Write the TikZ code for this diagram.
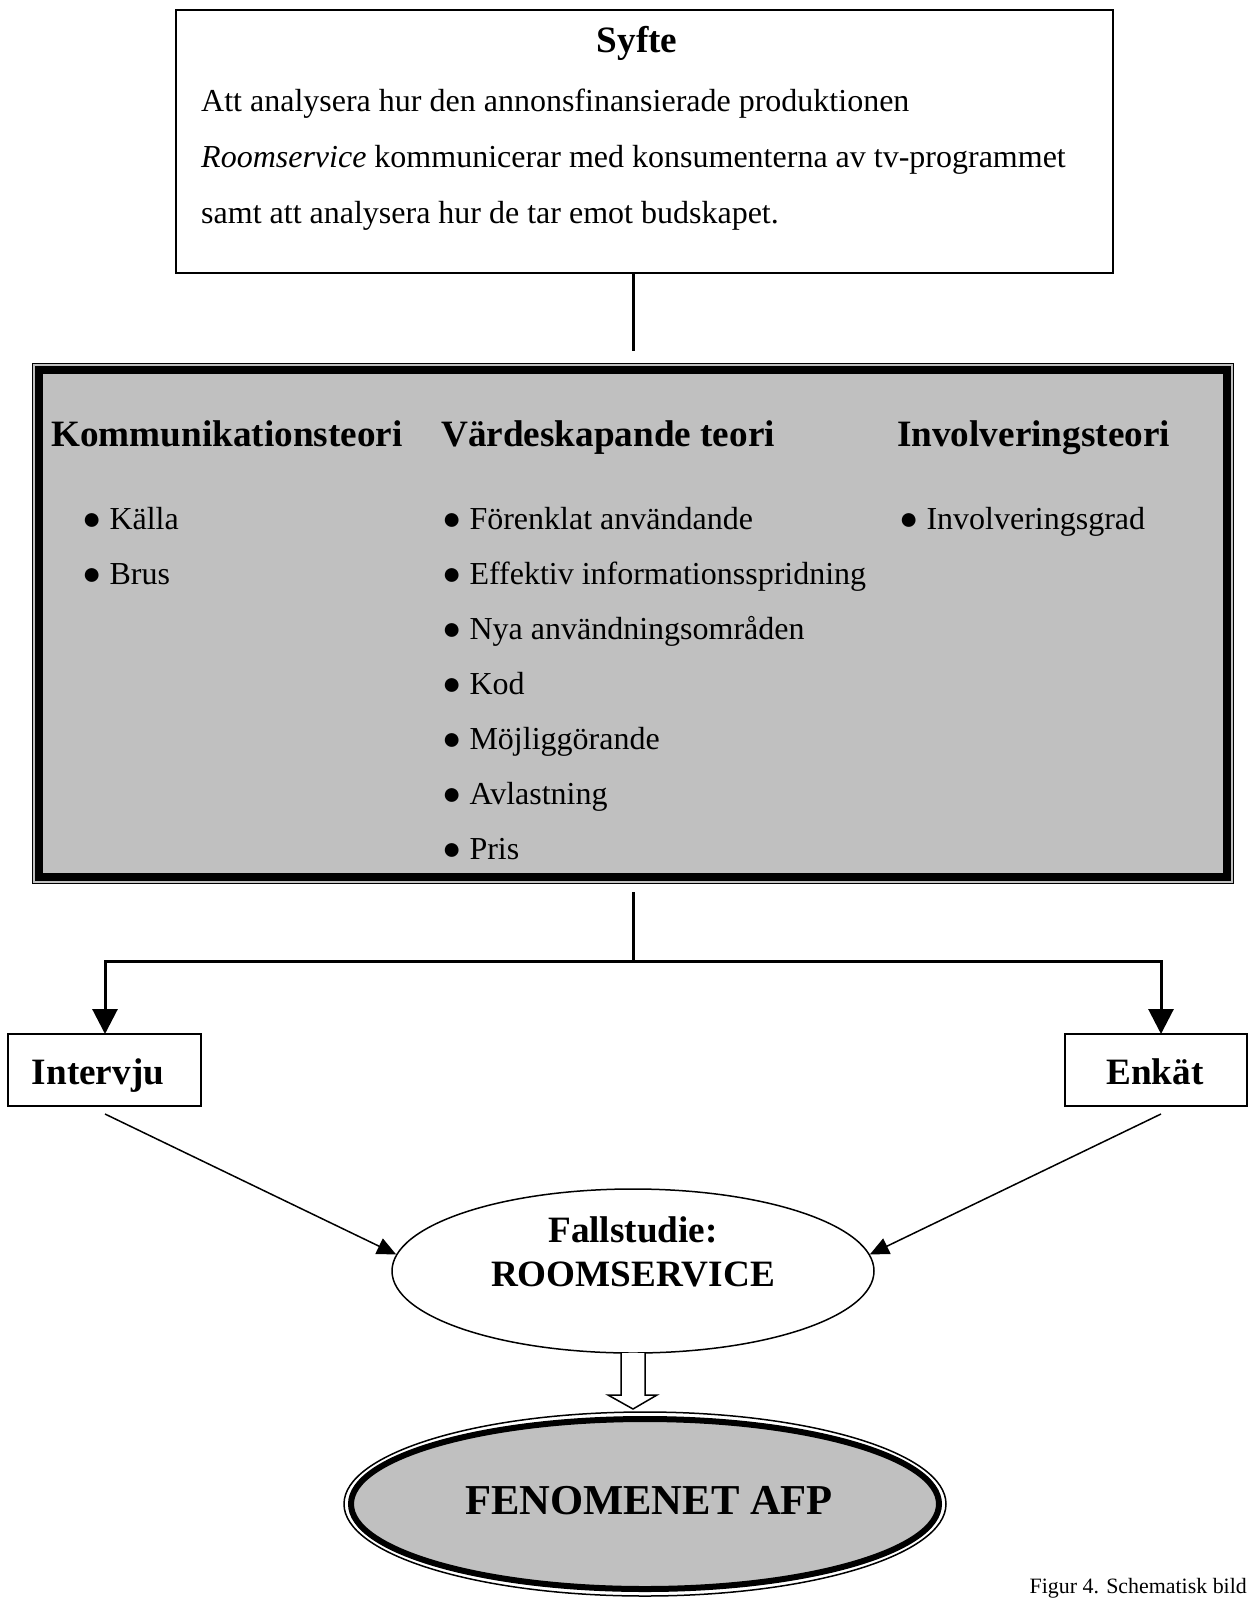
\documentclass[tikz,border=0pt]{standalone}
\usepackage{fontspec}
\setmainfont{Liberation Serif}
\usetikzlibrary{arrows.meta,shapes.geometric}
\definecolor{boxgray}{HTML}{C0C0C0}
\begin{document}
\begin{tikzpicture}[x=1pt,y=-1pt,
  bodytext/.style={font=\fontsize{32}{39}\selectfont, anchor=base west, inner sep=0pt},
  headtext/.style={font=\fontsize{37.2}{44}\bfseries\selectfont, inner sep=0pt},
  plainbox/.style={draw, line width=2pt, inner sep=0pt},
  conn/.style={line width=3pt},
  bigarrow/.style={line width=3pt, -{Triangle[width=25pt 0, length=25pt 0]}},
  thinarrow/.style={line width=1.5pt, -{Triangle[width=17pt 0, length=19pt 0]}}]
\useasboundingbox (0,0) rectangle (1248,1598);

% Syfte box
\node[plainbox, minimum width=937pt, minimum height=263pt] (syftebox) at (644.5,141.5) {};
\node[headtext, anchor=base] (syfte) at (637,52) {Syfte};
\node[bodytext] (l1) at (201,111) {Att analysera hur den annonsfinansierade produktionen};
\node[bodytext] (l2) at (201,167) {\textit{Roomservice} kommunicerar med konsumenterna av tv-programmet};
\node[bodytext] (l3) at (201,223) {samt att analysera hur de tar emot budskapet.};

\coordinate (s1) at (633,273);
\coordinate (s2) at (633,351);
\draw[conn] (s1) -- (s2);

% Theory box
\node[draw, fill=boxgray, line width=1.5pt, minimum width=1201pt, minimum height=520pt, inner sep=0pt] (theory) at (633,623.5) {};
\draw[line width=8pt] ([shift={(7,7)}]theory.north west) rectangle ([shift={(-7,-7)}]theory.south east);

\node[headtext, anchor=base west] (h1) at (51,446) {Kommunikationsteori};
\node[headtext, anchor=base west] (h2) at (441,446) {Värdeskapande teori};
\node[headtext, anchor=base west] (h3) at (897,446) {Involveringsteori};

\node[bodytext] (a1) at (82,529) {● Källa};
\node[bodytext] (a2) at (82,584) {● Brus};

\node[bodytext] (b1) at (442,529) {● Förenklat användande};
\node[bodytext] (b2) at (442,584) {● Effektiv informationsspridning};
\node[bodytext] (b3) at (442,639) {● Nya användningsområden};
\node[bodytext] (b4) at (442,694) {● Kod};
\node[bodytext] (b5) at (442,749) {● Möjliggörande};
\node[bodytext] (b6) at (442,804) {● Avlastning};
\node[bodytext] (b7) at (442,859) {● Pris};

\node[bodytext] (c1) at (899,529) {● Involveringsgrad};

% connectors down to methods
\coordinate (t1) at (633,892);
\coordinate (jn) at (633,961);
\draw[conn] (t1) -- (jn);

\node[plainbox, minimum width=193pt, minimum height=72pt] (intervju) at (104.5,1070) {};
\node[plainbox, minimum width=182pt, minimum height=72pt] (enkat) at (1156,1070) {};
\node[headtext, anchor=base] (intervjutext) at (98,1084) {Intervju};
\node[headtext, anchor=base] (enkattext) at (1155,1084) {Enkät};

\coordinate (aL) at (105,1034);
\coordinate (aR) at (1161,1034);
\draw[bigarrow] (jn) -| (aL);
\draw[bigarrow] (jn) -| (aR);

% Fallstudie ellipse
\node[draw, ellipse, line width=1.5pt, minimum width=482pt, minimum height=164pt, inner sep=0pt] (fall) at (633,1271) {};
\node[headtext, align=center] (falltext) at (633,1252) {Fallstudie:\\ROOMSERVICE};

\coordinate (iL) at (105,1114);
\coordinate (iR) at (1161,1114);
\draw[thinarrow] (iL) -- (fall.176);
\draw[thinarrow] (iR) -- (fall.4);

% hollow arrow
\draw[line width=1.5pt, fill=white] (621,1353) -- (621,1395) -- (608,1395) -- (633,1409) -- (657,1395) -- (645,1395) -- (645,1353);

% FENOMENET AFP ellipse
\node[draw, ellipse, line width=1.5pt, fill=white, minimum width=602pt, minimum height=184pt, inner sep=0pt] (afp) at (645,1504) {};
\draw[line width=6pt, fill=boxgray] (afp.center) ellipse [x radius=294, y radius=85];
\node[font=\fontsize{42.6}{50}\bfseries\selectfont, inner sep=0pt] (afptext) at (649,1501) {FENOMENET AFP};

\node[font=\fontsize{21.9}{26}\selectfont, anchor=base east, inner sep=0pt] (caption) at (1247,1593) {Figur 4. Schematisk bild};
\end{tikzpicture}
\end{document}
